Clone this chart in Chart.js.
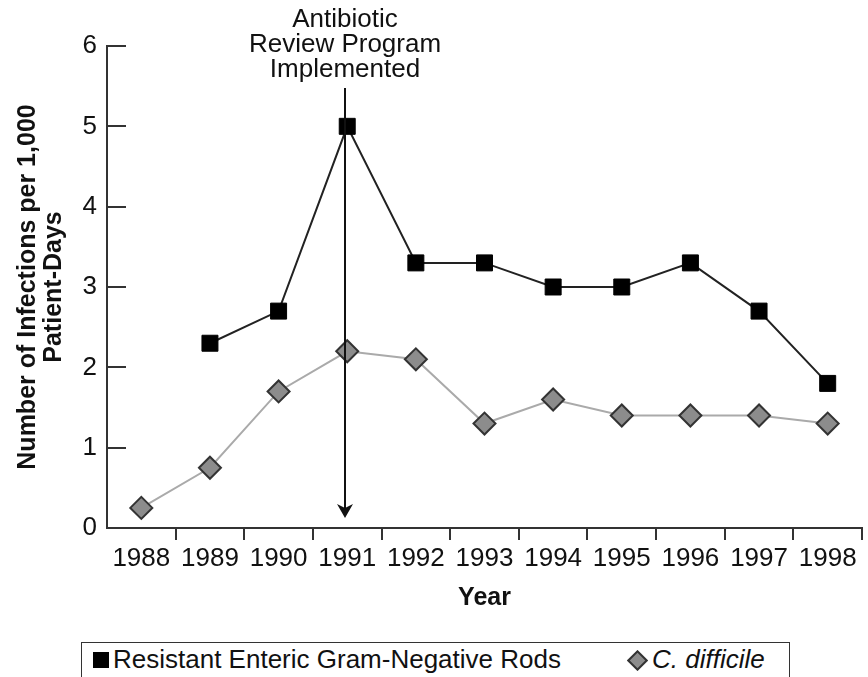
<!DOCTYPE html>
<html>
<head>
<meta charset="utf-8">
<script src="https://cdn.jsdelivr.net/npm/chart.js@4"></script>
<style>
    body { margin: 0; background: #fff; font-family: "Liberation Sans", Arial, sans-serif; }
    #wrap { position: relative; width: 868px; height: 677px; overflow: hidden; }
    #chartBox { position: absolute; left: 0; top: 0; width: 868px; height: 640px; }
    #legend { position: absolute; left: 81px; top: 642px; width: 707px; height: 60px; border: 1.5px solid #333; }
    .lg { position: absolute; font-size: 26px; line-height: 26px; color: #111; white-space: nowrap; }
    .sq { position: absolute; width: 16px; height: 16px; background: #000; }
    .dm { position: absolute; width: 11px; height: 11px; background: #8c8c8c; border: 2px solid #333; transform: rotate(45deg); }
</style>
</head>
<body>
<div id="wrap">
    <div id="chartBox"><canvas id="chart" width="868" height="640"></canvas></div>
    <div id="legend">
        <div class="sq" style="left:11px; top:9px;"></div>
        <div class="lg" style="left:31px; top:3px;">Resistant Enteric Gram-Negative Rods</div>
        <div class="dm" style="left:548px; top:10px;"></div>
        <div class="lg" style="left:570px; top:3px; font-style:italic;">C. difficile</div>
    </div>
</div>
<script>
const years = ['1988', '1989', '1990', '1991', '1992', '1993', '1994', '1995', '1996', '1997', '1998'];
const resistantRods = [null, 2.3, 2.7, 5.0, 3.3, 3.3, 3.0, 3.0, 3.3, 2.7, 1.8];
const cDifficile = [0.25, 0.75, 1.7, 2.2, 2.1, 1.3, 1.6, 1.4, 1.4, 1.4, 1.3];
const yTicks = [0, 1, 2, 3, 4, 5, 6];
const noteYear = '1991';
const noteLines = ['Antibiotic', 'Review Program', 'Implemented'];

const FONT = '"Liberation Sans", Arial, sans-serif';
const INK = '#111';
const AXIS = '#333';

// y ticks point into the plot area
const inwardTicks = {
    id: 'inwardTicks',
    afterDraw(chart) {
        const y = chart.scales.y;
        const ctx = chart.ctx;
        const left = chart.chartArea.left;
        ctx.save();
        ctx.strokeStyle = AXIS;
        ctx.lineWidth = 2;
        yTicks.forEach(v => {
            const py = Math.round(y.getPixelForValue(v));
            ctx.beginPath();
            ctx.moveTo(left, py);
            ctx.lineTo(left + 19, py);
            ctx.stroke();
        });
        ctx.restore();
    }
};

// note and arrow at the program year
const programNote = {
    id: 'programNote',
    afterDatasetsDraw(chart) {
        const ctx = chart.ctx;
        const x = Math.round(chart.scales.x.getPixelForValue(years.indexOf(noteYear))) - 2;
        const top = chart.chartArea.top + 42;
        const tip = chart.scales.y.getPixelForValue(0) - 10;
        ctx.save();
        ctx.fillStyle = INK;
        ctx.font = '26px ' + FONT;
        ctx.textAlign = 'center';
        ctx.textBaseline = 'alphabetic';
        noteLines.forEach((line, i) => ctx.fillText(line, x, 27 + i * 25));

        ctx.strokeStyle = INK;
        ctx.lineWidth = 2;
        ctx.beginPath();
        ctx.moveTo(x, top);
        ctx.lineTo(x, tip - 8);
        ctx.stroke();

        ctx.beginPath();
        ctx.moveTo(x, tip);
        ctx.lineTo(x - 8, tip - 14);
        ctx.lineTo(x, tip - 10);
        ctx.lineTo(x + 8, tip - 14);
        ctx.closePath();
        ctx.fill();
        ctx.restore();
    }
};

new Chart(document.getElementById('chart'), {
    type: 'line',
    data: {
        labels: years,
        datasets: [
            {
                label: 'C. difficile',
                data: cDifficile,
                borderColor: '#aaaaaa',
                borderWidth: 2,
                pointStyle: 'rectRot',
                pointRadius: 11,
                pointHoverRadius: 11,
                pointBackgroundColor: '#8c8c8c',
                pointBorderColor: '#333',
                pointBorderWidth: 2,
                tension: 0
            },
            {
                label: 'Resistant Enteric Gram-Negative Rods',
                data: resistantRods,
                borderColor: '#222',
                borderWidth: 2,
                pointStyle: 'rect',
                pointRadius: 11.3,
                pointHoverRadius: 11.3,
                pointBackgroundColor: '#000',
                pointBorderColor: '#000',
                pointBorderWidth: 1,
                tension: 0
            }
        ]
    },
    options: {
        responsive: false,
        animation: false,
        clip: false,
        layout: { autoPadding: false, padding: { top: 46, right: 6, left: 0, bottom: 0 } },
        plugins: {
            legend: { display: false },
            tooltip: { enabled: false }
        },
        scales: {
            x: {
                type: 'category',
                offset: true,
                afterFit(scale) {
                    scale.height = 112;
                    scale.paddingLeft = 0;
                    scale.paddingRight = 0;
                },
                border: { display: true, color: AXIS, width: 2 },
                grid: {
                    offset: true,
                    drawOnChartArea: false,
                    drawTicks: true,
                    tickLength: 12,
                    lineWidth: 2,
                    color: ctx => ctx.index === 0 ? 'rgba(0,0,0,0)' : AXIS
                },
                ticks: {
                    autoSkip: false,
                    maxRotation: 0,
                    padding: 3,
                    color: INK,
                    font: { family: FONT, size: 26 }
                },
                title: {
                    display: true,
                    text: 'Year',
                    color: INK,
                    padding: { top: 0, bottom: 27 },
                    font: { family: FONT, size: 25, weight: 'bold' }
                }
            },
            y: {
                min: 0,
                max: 6,
                afterFit(scale) { scale.width = 107; },
                afterBuildTicks(scale) { scale.ticks = yTicks.map(v => ({ value: v })); },
                border: { display: true, color: AXIS, width: 2 },
                grid: { drawOnChartArea: false, drawTicks: false },
                ticks: {
                    padding: 10,
                    color: INK,
                    font: { family: FONT, size: 26 }
                },
                title: {
                    display: true,
                    text: ['Number of Infections per 1,000', 'Patient-Days'],
                    color: INK,
                    padding: { top: 15, bottom: 0 },
                    font: { family: FONT, size: 25, weight: 'bold', lineHeight: 1.04 }
                }
            }
        }
    },
    plugins: [inwardTicks, programNote]
});
</script>
</body>
</html>
